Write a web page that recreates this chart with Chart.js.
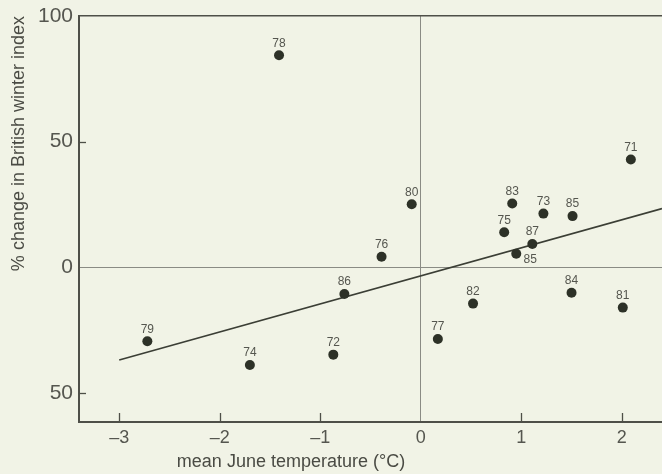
<!DOCTYPE html>
<html>
<head>
<meta charset="utf-8">
<script src="https://cdn.jsdelivr.net/npm/chart.js@4"></script>
<style>
  html, body { margin: 0; padding: 0; background: #f1f3e6; }
  canvas { display: block; }
</style>
</head>
<body>
<canvas id="c" width="662" height="474"></canvas>
<script>
// ---- data ----
const yearLabels = ['71','72','73','74','75','76','77','78','79','80','81','82','83','84','85','85','86','87'];
const juneTemp   = [2.09,-0.87,1.22,-1.70,0.83,-0.39,0.17,-1.41,-2.72,-0.09,2.01,0.52,0.91,1.50,1.51,0.95,-0.76,1.11];
const winterChange = [42.9,-34.7,21.4,-38.8,14.0,4.2,-28.5,84.4,-29.4,25.1,-16.0,-14.4,25.4,-10.1,20.4,5.4,-10.6,9.3];
const trendX = [-3, 2.4];
const trendY = [-36.8, 23.4];
const xTickValues = [-3, -2, -1, 0, 1, 2];
const xTickLabels = ['–3', '–2', '–1', '0', '1', '2'];
const yTickValues = [-50, 0, 50, 100];
const yTickLabels = ['50', '0', '50', '100'];
const xTitle = 'mean June temperature (°C)';
const yTitle = '% change in British winter index';

// label placement (style only): index 15 is the lower "85", drawn below-right
const labelPlacement = yearLabels.map((_, i) => i === 15 ? 'below-right' : 'above');

const INK = '#2d3127';
const AXIS = '#4e4f48';
const TEXT = '#55564f';
const FONT = "'Liberation Sans', Arial, sans-serif";

const points = juneTemp.map((x, i) => ({ x, y: winterChange[i] }));
const trend = trendX.map((x, i) => ({ x, y: trendY[i] }));

const decor = {
  id: 'decor',
  beforeDraw(chart) {
    const ctx = chart.ctx;
    ctx.save();
    ctx.fillStyle = '#f1f3e6';
    ctx.fillRect(0, 0, chart.width, chart.height);
    ctx.restore();
  },
  afterDraw(chart) {
    const ctx = chart.ctx;
    const xs = chart.scales.x, ys = chart.scales.y;
    const area = chart.chartArea;
    ctx.save();
    // inside tick marks
    ctx.strokeStyle = AXIS;
    ctx.lineWidth = 1.3;
    xTickValues.forEach(v => {
      if (v === 0) return;
      const px = Math.round(xs.getPixelForValue(v)) + 0.5;
      ctx.beginPath();
      ctx.moveTo(px, area.bottom);
      ctx.lineTo(px, area.bottom - 9);
      ctx.stroke();
    });
    yTickValues.forEach(v => {
      if (v === 0 || v === 100) return;
      const py = Math.round(ys.getPixelForValue(v)) + 0.5;
      ctx.beginPath();
      ctx.moveTo(area.left, py);
      ctx.lineTo(area.left + 7, py);
      ctx.stroke();
    });
    // point labels
    ctx.fillStyle = TEXT;
    ctx.font = '12px ' + FONT;
    ctx.textAlign = 'center';
    ctx.textBaseline = 'middle';
    const meta = chart.getDatasetMeta(0);
    meta.data.forEach((el, i) => {
      const p = el.getProps(['x', 'y'], true);
      if (labelPlacement[i] === 'below-right') {
        ctx.fillText(yearLabels[i], p.x + 14, p.y + 6);
      } else {
        ctx.fillText(yearLabels[i], p.x, p.y - 12);
      }
    });
    // x axis title
    ctx.fillStyle = '#4a4b44';
    ctx.font = '18px ' + FONT;
    ctx.textAlign = 'center';
    ctx.textBaseline = 'middle';
    ctx.fillText(xTitle, area.left + 212, 462);
    ctx.restore();
  }
};

function zeroPad(s) {
  s.paddingLeft = 0; s.paddingRight = 0; s.paddingTop = 0; s.paddingBottom = 0;
}

new Chart(document.getElementById('c'), {
  type: 'scatter',
  data: {
    datasets: [
      {
        data: points,
        backgroundColor: INK,
        borderWidth: 0,
        pointRadius: 5,
        pointHoverRadius: 5
      },
      {
        type: 'line',
        data: trend,
        borderColor: '#3b3e35',
        borderWidth: 1.6,
        pointRadius: 0,
        fill: false,
        showLine: true
      }
    ]
  },
  options: {
    responsive: false,
    animation: false,
    devicePixelRatio: 1,
    layout: { autoPadding: false, padding: { top: 16, right: 0, left: 0, bottom: 0 } },
    plugins: { legend: { display: false }, tooltip: { enabled: false } },
    scales: {
      x: {
        type: 'linear',
        min: -3.4,
        max: 2.4,
        afterBuildTicks: s => { s.ticks = xTickValues.map(v => ({ value: v })); },
        afterFit: s => { s.height = 52; zeroPad(s); },
        grid: {
          drawTicks: false,
          color: ctx => (ctx.tick && ctx.tick.value === 0) ? '#8a8b84' : 'rgba(0,0,0,0)',
          lineWidth: 1
        },
        border: { display: true, color: AXIS, width: 2 },
        ticks: {
          padding: 5,
          color: TEXT,
          font: { family: FONT, size: 18 },
          callback: (v) => xTickLabels[xTickValues.indexOf(v)]
        }
      },
      y: {
        type: 'linear',
        min: -61.5,
        max: 100,
        afterBuildTicks: s => { s.ticks = yTickValues.map(v => ({ value: v })); },
        afterFit: s => { s.width = 79; zeroPad(s); },
        grid: {
          drawTicks: false,
          color: ctx => {
            if (!ctx.tick) return 'rgba(0,0,0,0)';
            if (ctx.tick.value === 0) return '#8a8b84';
            if (ctx.tick.value === 100) return AXIS;
            return 'rgba(0,0,0,0)';
          },
          lineWidth: ctx => (ctx.tick && ctx.tick.value === 100) ? 1.6 : 1
        },
        border: { display: true, color: AXIS, width: 2 },
        ticks: {
          padding: 6,
          color: TEXT,
          font: { family: FONT, size: 21 },
          callback: (v) => yTickLabels[yTickValues.indexOf(v)]
        },
        title: {
          display: true,
          text: yTitle,
          align: 'end',
          color: '#4a4b44',
          font: { family: FONT, size: 18 },
          padding: { top: 8, bottom: 0 }
        }
      }
    }
  },
  plugins: [decor]
});
</script>
</body>
</html>
